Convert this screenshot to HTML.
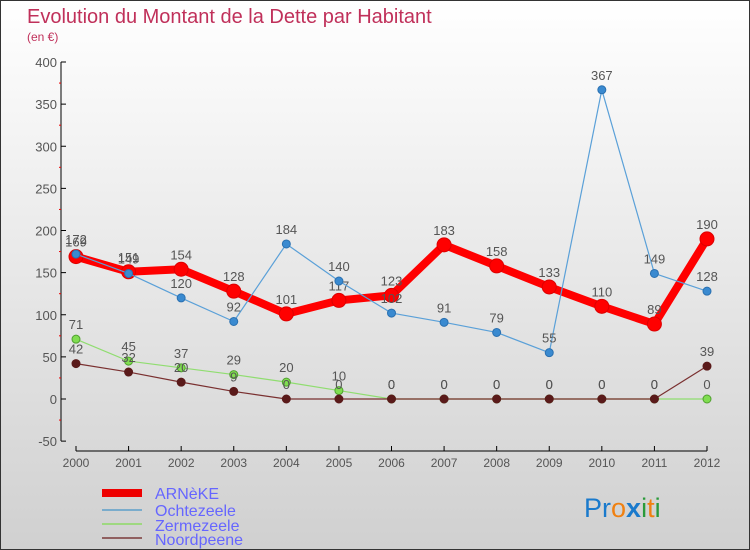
<!DOCTYPE html>
<html><head><meta charset="utf-8"><style>
body{margin:0}
#c{width:750px;height:550px;position:relative;box-sizing:border-box;border:1px solid #333;background:linear-gradient(#fff,#d0d0d0);font-family:"Liberation Sans",sans-serif;overflow:hidden}
</style></head><body>
<div id="c">
<svg id="s" width="750" height="550" style="position:absolute;left:0;top:0">
<text x="26" y="22" font-size="20" fill="#c0305a">Evolution du Montant de la Dette par Habitant</text>
<text x="26" y="40" font-size="12" fill="#c0305a">(en €)</text>
<line x1="60" y1="61" x2="60" y2="440" stroke="#000"/>
<line x1="75" y1="450" x2="706" y2="450" stroke="#000"/>
<g id="ax"></g><g id="series"></g>
<rect x="101" y="488" width="40" height="8" fill="#e00"/>
<line x1="101" y1="509" x2="141" y2="509" stroke="#7aaccc" stroke-width="2"/>
<line x1="101" y1="523" x2="141" y2="523" stroke="#9ed880" stroke-width="2"/>
<line x1="101" y1="537" x2="141" y2="537" stroke="#906060" stroke-width="2"/>
<g font-size="16" fill="#6666ff">
<text x="154" y="498">ARNèKE</text>
<text x="154" y="515">Ochtezeele</text>
<text x="154" y="530">Zermezeele</text>
<text x="154" y="544">Noordpeene</text>
</g>
<text x="583" y="516" font-size="27"><tspan fill="#1a7acc">Pr</tspan><tspan fill="#f08010">o</tspan><tspan fill="#1a7acc" font-weight="bold">x</tspan><tspan fill="#2a9a3a">i</tspan><tspan fill="#f08010">t</tspan><tspan fill="#2a9a3a">i</tspan></text>
</svg>
</div>
<script>
const years=[2000,2001,2002,2003,2004,2005,2006,2007,2008,2009,2010,2011,2012];
const arneke=[169,151,154,128,101,117,123,183,158,133,110,89,190];
const ochtezeele=[172,149,120,92,184,140,102,91,79,55,367,149,128];
const zermezeele=[71,45,37,29,20,10,0,0,0,0,0,0,0];
const noordpeene=[42,32,20,9,0,0,0,0,0,0,0,0,39];
const yTicks=[-50,0,50,100,150,200,250,300,350,400];
const NS="http://www.w3.org/2000/svg";
const X=i=>75+i*(706-75)/(years.length-1);
const Y=v=>398-v*(398-61)/400;
function mk(t,a,p){const e=document.createElementNS(NS,t);for(const k in a)e.setAttribute(k,a[k]);p.appendChild(e);return e;}
const ax=document.getElementById('ax');
yTicks.forEach(v=>{
 const l=mk('line',{x1:60,y1:Y(v),x2:65,y2:Y(v),stroke:'#000'},ax);
 
 
 const t=mk('text',{x:56,y:Y(v)+5,'font-size':13,fill:'#555','text-anchor':'end'},ax);
 
 
 t.textContent=v;
 if(v<400){const m=mk('line',{x1:58,y1:Y(v+25),x2:60,y2:Y(v+25),stroke:'#e00'},ax);
 
 }
});
years.forEach((y,i)=>{
 const l=mk('line',{x1:X(i),y1:445,x2:X(i),y2:450,stroke:'#000'},ax);
 
 
 const t=mk('text',{x:X(i),y:466,'font-size':12,fill:'#555','text-anchor':'middle'},ax);
 
 
 t.textContent=y;
});
const sg=document.getElementById('series');
function series(name,vals,color,w,r,dot,stroke){
 const g=mk('g',{},sg);
 
 
 const pl=mk('polyline',{points:vals.map((v,i)=>X(i)+','+Y(v)).join(' '),fill:'none',stroke:color,'stroke-width':w,'stroke-linejoin':'round'},g);
 
 
 vals.forEach((v,i)=>{
  const c=mk('circle',{cx:X(i),cy:Y(v),r:r,fill:dot,stroke:stroke,'stroke-width':1},g);
  
  
  const t=mk('text',{x:X(i),y:Y(v)-10,'font-size':13,fill:'#555','text-anchor':'middle'},g);
  
  
  t.textContent=v;
 });
}
series('zermezeele',zermezeele,'#90dd70',1.2,4,'#80dd50','#50a030');
series('noordpeene',noordpeene,'#7a3030',1.2,4,'#5a1a1a','#5a1a1a');
series('arneke',arneke,'#f00',8,7,'#f00','#d00');
series('ochtezeele',ochtezeele,'#5aa0d8',1.2,4,'#3a8ad0','#2a70b0');
</script>
</body></html>
